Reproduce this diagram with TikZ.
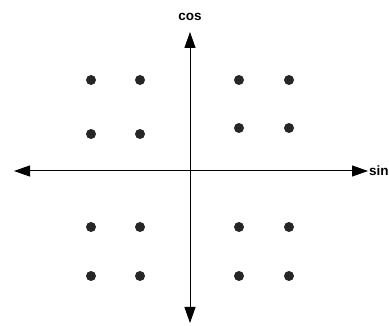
\documentclass[tikz,border=0pt]{standalone}
\usepackage{fontspec}
\setmainfont{Liberation Sans}
\usetikzlibrary{arrows.meta}
\definecolor{dotc}{HTML}{262626}
\begin{document}
\begin{tikzpicture}[x=1pt,y=-1pt,
  pt/.style={circle,fill=dotc,draw=none,minimum size=10pt,inner sep=0pt},
  axis/.style={line width=1pt,black,{Triangle[length=16pt,width=11pt]}-{Triangle[length=16pt,width=11pt]}},
  lbl/.style={font=\bfseries\fontsize{13.5}{14}\selectfont,inner sep=0pt}]
\useasboundingbox (0,0) rectangle (389,326);
\coordinate (L) at (14,171);
\coordinate (R) at (368,171);
\coordinate (T) at (190,32);
\coordinate (B) at (190,323);
\draw[axis] (L) -- (R);
\draw[axis] (T) -- (B);
\node[lbl] (cos) at (190,17) {cos};
\node[lbl,anchor=west] (sin) at (369,171) {sin};
% upper left
\node[pt] (a1) at (91,80) {};
\node[pt] (a2) at (140,80) {};
\node[pt] (a3) at (91,134) {};
\node[pt] (a4) at (140,134) {};
% upper right
\node[pt] (b1) at (239,80) {};
\node[pt] (b2) at (289,80) {};
\node[pt] (b3) at (239,128) {};
\node[pt] (b4) at (289,128) {};
% lower left
\node[pt] (c1) at (91,227) {};
\node[pt] (c2) at (140,227) {};
\node[pt] (c3) at (91,276) {};
\node[pt] (c4) at (140,276) {};
% lower right
\node[pt] (d1) at (239,227) {};
\node[pt] (d2) at (289,227) {};
\node[pt] (d3) at (239,276) {};
\node[pt] (d4) at (289,276) {};
\end{tikzpicture}
\end{document}
